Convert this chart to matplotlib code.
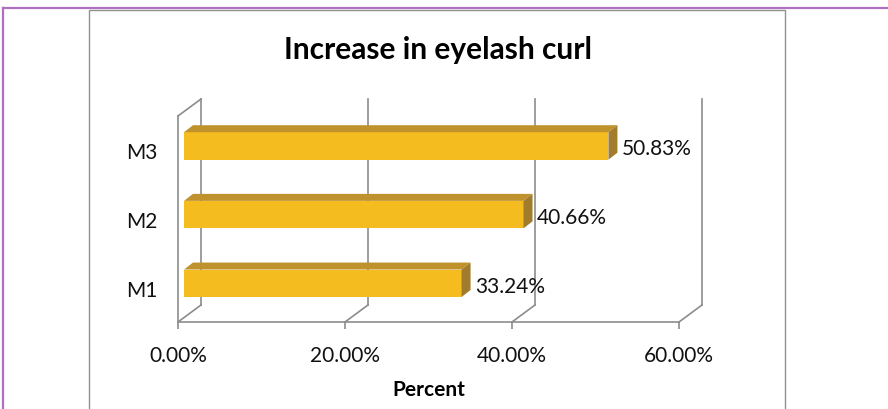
import matplotlib
matplotlib.use("Agg")
import matplotlib.pyplot as plt
from matplotlib.patches import Polygon, Rectangle
from matplotlib.lines import Line2D

categories = ["M1", "M2", "M3"]
values = [33.24, 40.66, 50.83]
value_labels = ["33.24%", "40.66%", "50.83%"]
xticks = [0, 20, 40, 60]
xticklabels = ["0.00%", "20.00%", "40.00%", "60.00%"]

plt.rcParams['font.family'] = ['Lato', 'DejaVu Sans']

W, H = 888, 410
fig = plt.figure(figsize=(W / 100, H / 100), dpi=100)
ax = fig.add_axes([178 / W, 87 / H, 501 / W, 206 / H])
ax.set_xlim(0, 60)
ax.set_ylim(-0.5, 2.5)

# pixel offsets -> data units (for the fake 3d depth)
px_x = 501 / 60
px_y = 206 / 3
def dxy(px, py):
    return px / px_x, py / px_y

grid = '#8c8c8c'
wdx, wdy = dxy(23, 17)

# back wall gridlines and floor diagonals
for x in xticks:
    ax.plot([x, x + wdx], [-0.5, -0.5 + wdy], color=grid, lw=1.2, clip_on=False, zorder=1)
    ax.plot([x + wdx, x + wdx], [-0.5 + wdy, 2.5 + wdy], color=grid, lw=1.2, clip_on=False, zorder=1)
# side wall top edge
ax.plot([0, wdx], [2.5, 2.5 + wdy], color=grid, lw=1.2, clip_on=False, zorder=1)

# bars
fx, fy = dxy(6, 4.4)
bx, by = dxy(15, 11.4)
half = 0.2
for i, v in enumerate(values):
    ax.add_patch(Rectangle((fx, i - half + fy), v, 2 * half, fc='#F4BC1F', ec='none', zorder=3))
    top = [(fx, i + half + fy), (v + fx, i + half + fy), (v + bx, i + half + by), (bx, i + half + by)]
    ax.add_patch(Polygon(top, closed=True, fc='#BF922E', ec='none', zorder=3, clip_on=False))
    side = [(v + fx, i - half + fy), (v + fx, i + half + fy), (v + bx, i + half + by), (v + bx, i - half + by)]
    ax.add_patch(Polygon(side, closed=True, fc='#A07C2C', ec='none', zorder=3, clip_on=False))
    ax.annotate(value_labels[i], xy=(v, i), xytext=(14, 1.5), textcoords='offset points',
                ha='left', va='center', fontsize=15, color='#111111', zorder=4)

for s in ['top', 'right']:
    ax.spines[s].set_visible(False)
for s in ['left', 'bottom']:
    ax.spines[s].set_color(grid)
    ax.spines[s].set_linewidth(1.2)

ax.set_xticks(xticks)
ax.set_xticklabels(xticklabels, fontsize=15)
ax.set_yticks(range(len(categories)))
ax.set_yticklabels(categories, fontsize=15)
ax.tick_params(axis='x', colors=grid, length=5, width=1.2, pad=11.5, labelcolor='#111111')
ax.tick_params(axis='y', length=0, pad=15, labelcolor='#111111')
ax.set_xlabel("Percent", fontsize=15, fontweight='bold', labelpad=10.5)
ax.patch.set_visible(False)

fig.text(437.5 / W, 1 - 50 / H, "Increase in eyelash curl", ha='center', va='center',
         fontsize=21.5, fontweight='bold')

# chart area border and purple page border
fig.add_artist(Rectangle((89 / W, -0.1), (785 - 89) / W, 1 - 11 / H + 0.1,
                         transform=fig.transFigure, fill=False, ec='#909090', lw=1))
fig.add_artist(Line2D([2.7 / W, 2.7 / W], [0, 1 - 8.5 / H], transform=fig.transFigure,
                      color='#B06FBF', lw=1.6))
fig.add_artist(Line2D([2.7 / W, 1], [1 - 8.5 / H, 1 - 8.5 / H], transform=fig.transFigure,
                      color='#B06FBF', lw=1.6))

fig.savefig("out.png", dpi=100)
